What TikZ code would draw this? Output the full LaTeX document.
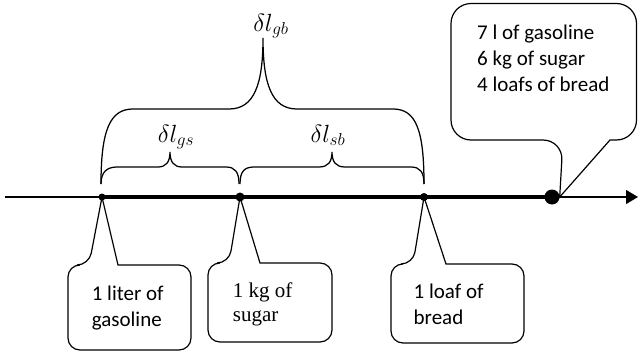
\documentclass[tikz,border=0pt]{standalone}
\usepackage{fontspec}
\setmainfont{Carlito}
\newfontfamily\timesfont{Liberation Serif}
\usetikzlibrary{arrows.meta}
\begin{document}
\begin{tikzpicture}[x=1pt,y=-1pt,
  lbl/.style={font=\fontsize{21}{26}\selectfont, anchor=base west, inner sep=0pt},
  tlbl/.style={font=\fontsize{21}{26}\timesfont, anchor=base west, inner sep=0pt},
  mlbl/.style={font=\fontsize{25}{30}\selectfont, anchor=base, inner sep=0pt},
  dot/.style={circle, fill=black, inner sep=0pt, minimum size=#1},
  callout/.style={draw=black, line width=1.2pt, rounded corners=#1},
  brc/.style={line width=1.25pt},
  axis/.style={line width=1.2pt},
]
\useasboundingbox (0,0) rectangle (638,351);

% axis
\coordinate (start) at (5,197);
\coordinate (end) at (638,197);
\node[dot=7pt] (dg) at (102,197) {};
\node[dot=9pt] (ds) at (240,197) {};
\node[dot=8pt] (db) at (424,197) {};
\node[dot=15pt] (dt) at (552,197) {};
\draw[axis, -{Triangle[length=12pt,width=14pt]}] (start) -- (end);
\draw[line width=3.4pt] (dg.center) -- (dt.center);

% callouts
\draw[callout=12pt] (118,265) -- (191,265) -- (191,350) -- (68,350) -- (68,265) -- (89,265) [sharp corners] -- (dg.center) -- cycle;
\draw[callout=12pt] (260,263) -- (332,263) -- (332,342) -- (208,342) -- (208,263) -- (229,263) [sharp corners] -- (ds.center) -- cycle;
\draw[callout=12pt] (446,264) -- (524,264) -- (524,343) -- (391,343) -- (391,264) -- (413,264) [sharp corners] -- (db.center) -- cycle;
\draw[callout=20pt] (610,140) -- (636.5,140) -- (636.5,3.5) -- (451,3.5) -- (451,140) -- (563,140) [sharp corners] -- (dt.east) -- cycle;

% callout texts
\node[lbl] (t1a) at (91.6,300) {1 liter of};
\node[lbl] (t1b) at (91.6,326.5) {gasoline};
\node[tlbl] (t2a) at (232.7,297.5) {1 kg of};
\node[tlbl] (t2b) at (232.7,321) {sugar};
\node[lbl] (t3a) at (413.5,298.5) {1 loaf of};
\node[lbl] (t3b) at (413.5,324) {bread};
\node[lbl] (t4a) at (477,39.5) {7 l of gasoline};
\node[lbl] (t4b) at (477,65.5) {6 kg of sugar};
\node[lbl] (t4c) at (477,91.5) {4 loafs of bread};

% braces
\draw[brc] (101,184) .. controls (101,130) and (110,109) .. (133,109) -- (229,109) .. controls (254,109) and (263,85) .. (263,38) .. controls (263,85) and (272,109) .. (297,109) -- (393,109) .. controls (416,109) and (424,130) .. (424,184);
\draw[brc] (101,184) .. controls (101,172) and (107,167) .. (117,167) -- (158,167) .. controls (166,167) and (170,162) .. (170,152) .. controls (170,162) and (174,167) .. (182,167) -- (226,167) .. controls (235,167) and (239,172) .. (239,184);
\draw[brc] (240,184) .. controls (240,172) and (244,167) .. (254,167) -- (319,167) .. controls (328,167) and (332,162) .. (332,152) .. controls (332,162) and (336,167) .. (345,167) -- (411,167) .. controls (420,167) and (424,172) .. (424,184);

% brace labels
\node[mlbl] (lgb) at (271,31) {$\delta l_{gb}$};
\node[mlbl] (lgs) at (176,142) {$\delta l_{gs}$};
\node[mlbl] (lsb) at (328,142) {$\delta l_{sb}$};
\end{tikzpicture}
\end{document}
